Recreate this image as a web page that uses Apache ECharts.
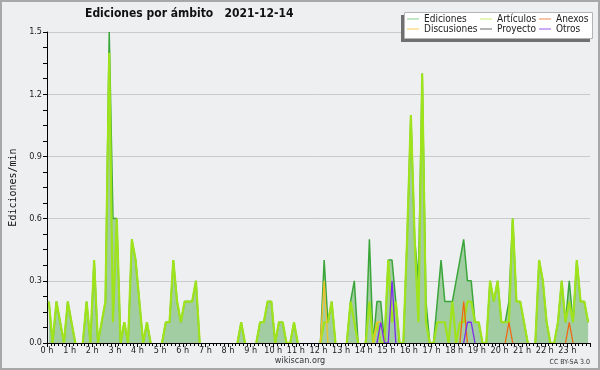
<!DOCTYPE html>
<html><head><meta charset="utf-8">
<script src="https://cdn.jsdelivr.net/npm/echarts@6/dist/echarts.min.js"></script>
<style>html,body{margin:0;padding:0;background:#eeeff1}#c{width:600px;height:370px}</style>
</head><body><div id="c"></div>
<script>
const hourLabels = ['0 h','1 h','2 h','3 h','4 h','5 h','6 h','7 h','8 h','9 h','10 h','11 h',
  '12 h','13 h','14 h','15 h','16 h','17 h','18 h','19 h','20 h','21 h','22 h','23 h'];
const yTickLabels = ['0.0','0.3','0.6','0.9','1.2','1.5'];
const seriesNames = ['Ediciones','Artículos','Anexos','Discusiones','Proyecto','Otros'];

// 10-minute bins, edits per minute
const ediciones = [
  0.2,0,0.2,0.1,0,0.2, 0.1,0,0,0,0.2,0,
  0.4,0,0.1,0.2,1.5,0.6, 0.6,0,0.1,0,0.5,0.4,
  0.2,0,0.1,0,0,0, 0,0.1,0.1,0.4,0.2,0.1,
  0.2,0.2,0.2,0.3,0,0, 0,0,0,0,0,0,
  0,0,0,0.1,0,0, 0,0,0.1,0.1,0.2,0.2,
  0,0.1,0.1,0,0,0.1, 0,0,0,0,0,0,
  0,0.4,0.1,0.2,0,0, 0,0,0.2,0.3,0,0,
  0,0.5,0,0.2,0.2,0, 0.4,0.4,0.2,0,0,0.5,
  1.1,0.5,0.3,1.3,0.2,0, 0,0.2,0.4,0.2,0.2,0.2,
  0.3,0.4,0.5,0.3,0.3,0.1, 0.1,0,0,0.3,0.2,0.3,
  0.1,0.1,0.2,0.6,0.2,0.2, 0.1,0,0,0,0.4,0.3,
  0.1,0,0,0.1,0.3,0.1, 0.3,0.1,0.4,0.2,0.2,0.1
];
const articulos = [
  0.2,0,0.2,0.1,0,0.2, 0.1,0,0,0,0.2,0,
  0.4,0,0.1,0.2,1.4,0.1, 0.6,0,0.1,0,0.5,0.4,
  0.2,0,0.1,0,0,0, 0,0.1,0.1,0.4,0.2,0.1,
  0.2,0.2,0.2,0.3,0,0, 0,0,0,0,0,0,
  0,0,0,0.1,0,0, 0,0,0.1,0.1,0.2,0.2,
  0,0.1,0.1,0,0,0.1, 0,0,0,0,0,0,
  0,0.1,0.1,0.2,0,0, 0,0,0.2,0.1,0,0,
  0,0.2,0,0.1,0,0, 0.4,0.1,0.2,0,0,0.5,
  1.1,0.5,0.1,1.3,0.1,0, 0,0.1,0.1,0.1,0,0.2,
  0,0.1,0.1,0.2,0.2,0.1, 0.1,0,0,0.3,0.2,0.3,
  0.1,0.1,0.1,0.6,0.2,0.2, 0.1,0,0,0,0.4,0.3,
  0.1,0,0,0.1,0.3,0.1, 0.2,0.1,0.4,0.2,0.2,0.1
];
const anexos = [
  0,0,0,0,0,0, 0,0,0,0,0,0,
  0,0,0,0,0,0, 0,0,0,0,0,0,
  0,0,0,0,0,0, 0,0,0,0,0,0,
  0,0,0,0,0,0, 0,0,0,0,0,0,
  0,0,0,0,0,0, 0,0,0,0,0,0,
  0,0,0,0,0,0, 0,0,0,0,0,0,
  0,0,0,0,0,0, 0,0,0,0,0,0,
  0,0,0,0,0,0, 0,0,0,0,0,0,
  0,0,0,0,0,0, 0,0,0,0,0,0,
  0,0,0.2,0,0,0, 0,0,0,0,0,0,
  0,0,0.1,0,0,0, 0,0,0,0,0,0,
  0,0,0,0,0,0, 0.1,0,0,0,0,0
];
const discusiones = [
  0,0,0,0,0,0, 0,0,0,0,0,0,
  0,0,0,0,0,0, 0,0,0,0,0,0,
  0,0,0,0,0,0, 0,0,0,0,0,0,
  0,0,0,0,0,0, 0,0,0,0,0,0,
  0,0,0,0,0,0, 0,0,0,0,0,0,
  0,0,0,0,0,0, 0,0,0,0,0,0,
  0,0.3,0,0,0,0, 0,0,0,0,0,0,
  0,0,0,0.1,0.1,0, 0,0,0,0,0,0,
  0,0,0,0,0,0, 0,0,0,0,0,0,
  0,0,0,0,0,0, 0,0,0,0,0,0,
  0,0,0,0,0,0, 0,0,0,0,0,0,
  0,0,0,0,0,0, 0,0,0,0,0,0
];
const proyecto = [
  0,0,0,0,0,0, 0,0,0,0,0,0,
  0,0,0,0,0,0, 0,0,0,0,0,0,
  0,0,0,0,0,0, 0,0,0,0,0,0,
  0,0,0,0,0,0, 0,0,0,0,0,0,
  0,0,0,0,0,0, 0,0,0,0,0,0,
  0,0,0,0,0,0, 0,0,0,0,0,0,
  0,0,0,0,0,0, 0,0,0,0,0,0,
  0,0,0,0,0,0, 0,0,0,0,0,0,
  0,0,0,0,0,0, 0,0,0,0,0,0,
  0,0,0,0,0,0, 0,0,0,0,0,0,
  0,0,0,0,0,0, 0,0,0,0,0,0,
  0,0,0,0,0,0, 0,0,0,0,0,0
];
const otros = [
  0,0,0,0,0,0, 0,0,0,0,0,0,
  0,0,0,0,0,0, 0,0,0,0,0,0,
  0,0,0,0,0,0, 0,0,0,0,0,0,
  0,0,0,0,0,0, 0,0,0,0,0,0,
  0,0,0,0,0,0, 0,0,0,0,0,0,
  0,0,0,0,0,0, 0,0,0,0,0,0,
  0,0,0,0,0,0, 0,0,0,0,0,0,
  0,0,0,0,0.1,0, 0,0.3,0,0,0,0,
  0,0,0,0,0,0, 0,0,0,0,0,0,
  0,0,0,0.1,0.1,0, 0,0,0,0,0,0,
  0,0,0,0,0,0, 0,0,0,0,0,0,
  0,0,0,0,0,0, 0,0,0,0,0,0
];

const F = "'DejaVu Sans Condensed','DejaVu Sans',sans-serif";
// x position = centre of each 10-minute bin (in hours); zero runs become gaps
function pts(arr){
  return arr.map((v,i)=>{
    const gap = v===0 && (arr[i-1]||0)===0 && (arr[i+1]||0)===0;
    return [(i+0.5)/6, gap ? '-' : v];
  });
}
function lineSeries(name, data, color, width, z, extra){
  return Object.assign({
    name, type:'line', data: pts(data), symbol:'none', z,
    lineStyle:{color, width}, itemStyle:{color}, animation:false, connectNulls:false
  }, extra||{});
}

const chart = echarts.init(document.getElementById('c'), null, {renderer:'canvas'});
const legendBase = {
  orient:'vertical', top:14, icon:'rect', itemWidth:12, itemHeight:1, itemGap:0,
  padding:0, selectedMode:false, z:10,
  textStyle:{fontFamily:F, fontSize:10, color:'#222', lineHeight:10}
};
chart.setOption({
  backgroundColor:'#eeeff1',
  animation:false,
  title:{text:'Ediciones por ámbito   2021-12-14', left:85, top:8, padding:0,
    textStyle:{fontFamily:F, fontWeight:'bold', fontSize:12, color:'#111'}},
  grid:{left:45, right:10, top:32, bottom:27, containLabel:false},
  legend:[
    Object.assign({}, legendBase, {left:407, data:[
      {name:seriesNames[0], itemStyle:{color:'#88cc88'}},
      {name:seriesNames[3], itemStyle:{color:'#f5cc55'}}]}),
    Object.assign({}, legendBase, {left:480, data:[
      {name:seriesNames[1], itemStyle:{color:'#c8ee70'}},
      {name:seriesNames[4], itemStyle:{color:'#666666'}}]}),
    Object.assign({}, legendBase, {left:539, data:[
      {name:seriesNames[2], itemStyle:{color:'#f08850'}},
      {name:seriesNames[5], itemStyle:{color:'#9955ee'}}]})
  ],
  xAxis:{type:'value', min:0, max:24, interval:1, z:10,
    axisLine:{show:true, lineStyle:{color:'#000', width:1}},
    axisTick:{show:true, length:4, lineStyle:{color:'#000'}},
    minorTick:{show:true, splitNumber:6, length:3, lineStyle:{color:'#000'}},
    splitLine:{show:false},
    axisLabel:{formatter:(v)=>hourLabels[v]||'', fontFamily:F, fontSize:9, color:'#222', margin:3, showMaxLabel:false}
  },
  yAxis:{type:'value', min:0, max:1.5, interval:0.3,
    axisLine:{show:true, lineStyle:{color:'#000', width:1}},
    axisTick:{show:true, length:4, lineStyle:{color:'#000'}},
    minorTick:{show:true, splitNumber:4, length:4, lineStyle:{color:'#000'}},
    splitLine:{show:true, lineStyle:{color:'#cacaca', width:1}},
    axisLabel:{formatter:(v)=>yTickLabels[Math.round(v/0.3)], fontFamily:F, fontSize:9, color:'#222', margin:5},
    name:'Ediciones/min', nameLocation:'middle', nameGap:29,
    nameTextStyle:{fontFamily:"'DejaVu Sans Mono',monospace", fontSize:10, color:'#111'}
  },
  graphic:[
    {type:'rect', z:0, shape:{x:1, y:1, width:598, height:368}, style:{fill:null, stroke:'#a8a8a8', lineWidth:2}},
    {type:'rect', z:1, shape:{x:401, y:15, width:189, height:27}, style:{fill:'#707070'}},
    {type:'rect', z:2, shape:{x:404.5, y:12.5, width:188, height:26}, style:{fill:'#ffffff', stroke:'#b4b4b4', lineWidth:1}},
    {type:'text', z:5, x:300, y:361, style:{text:'wikiscan.org', fontFamily:F, fontSize:9, fill:'#333', textAlign:'center', textVerticalAlign:'middle'}},
    {type:'text', z:5, x:590, y:362, style:{text:'CC BY-SA 3.0', fontFamily:F, fontSize:7, fill:'#333', textAlign:'right', textVerticalAlign:'middle'}}
  ],
  series:[
    lineSeries(seriesNames[0], ediciones, '#3aa63a', 1.5, 2, {areaStyle:{color:'#a2cca2', opacity:1}}),
    lineSeries(seriesNames[1], articulos, '#9ee31c', 2.2, 3),
    lineSeries(seriesNames[3], discusiones, '#f2c12a', 1.3, 4),
    lineSeries(seriesNames[2], anexos, '#ee6a12', 1.3, 4),
    lineSeries(seriesNames[4], proyecto, '#555555', 1.3, 4),
    lineSeries(seriesNames[5], otros, '#7b2bef', 1.3, 5)
  ]
});
</script></body></html>
